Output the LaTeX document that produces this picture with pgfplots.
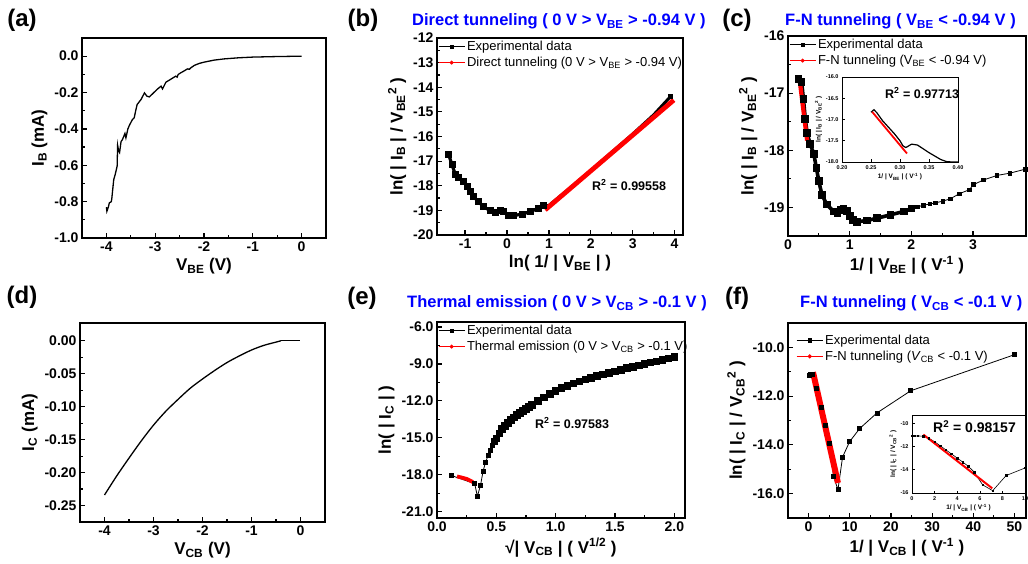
\documentclass[border=0pt]{standalone}
\usepackage{fontspec}
\setmainfont{Liberation Sans}
\usepackage{pgfplots}
\pgfplotsset{compat=1.18}
\newcommand{\fs}[1]{\fontsize{#1}{#1}\selectfont}
\pgfplotsset{
  panel/.style={
    scale only axis, anchor=south west,
    axis line style={line width=1.5pt},
    tick style={black, line width=1.2pt},
    major tick length=5pt, minor tick length=3pt,
    tick align=inside, xtick pos=bottom, ytick pos=left,
    tick label style={font=\bfseries\fs{14}},
    label style={font=\bfseries\fs{17}},
    /pgf/number format/assume math mode=true,
    scaled ticks=false,
    minor x tick num=1, minor y tick num=1,
    legend cell align=left,
    legend style={draw=none, fill=none, at={(0,1)}, anchor=north west, font=\fs{13}, inner sep=1pt, row sep=1pt},
    legend image code/.code={\draw[mark repeat=2,mark phase=2,##1] plot coordinates {(0pt,0pt) (13pt,0pt) (26pt,0pt)};},
  },
  inset/.style={
    scale only axis, anchor=south west,
    axis line style={line width=0.7pt},
    tick style={black, line width=0.5pt},
    major tick length=2.5pt, minor tick length=1.5pt,
    tick align=inside, xtick pos=bottom, ytick pos=left,
    tick label style={font=\bfseries\fs{5.5}},
    label style={font=\bfseries\fs{6.5}},
    /pgf/number format/assume math mode=true,
    scaled ticks=false, axis background/.style={fill=white},
    xlabel style={yshift=3pt}, ylabel style={yshift=-3pt},
  },
  expl/.style={black, line width=0.8pt, mark=square*, mark size=1.6pt},
  fitl/.style={red, line width=0.8pt, mark=*, mark size=1.6pt},
}
\begin{document}
\begin{tikzpicture}
\useasboundingbox (0,0) rectangle (1028pt,563pt);
% ---------- (a)
\begin{axis}[panel, at={(82pt,325pt)}, width=244pt, height=200pt,
  xmin=-4.5, xmax=0.5, ymin=-1.0, ymax=0.1,
  xtick={-4,-3,-2,-1,0}, ytick={-1,-0.8,-0.6,-0.4,-0.2,0},
  yticklabel style={/pgf/number format/.cd, fixed, fixed zerofill, precision=1},
  xlabel={V\textsubscript{BE} (V)}, ylabel={I\textsubscript{B} (mA)}]
\addplot[black, line width=1.3pt] coordinates {
(-4.00,-0.83) (-3.99,-0.853) (-3.96,-0.83) (-3.94,-0.807) (-3.90,-0.80) (-3.89,-0.785)
(-3.85,-0.679) (-3.82,-0.651) (-3.78,-0.605) (-3.77,-0.49) (-3.75,-0.52) (-3.73,-0.53)
(-3.70,-0.47) (-3.67,-0.458) (-3.62,-0.425) (-3.60,-0.449) (-3.56,-0.40) (-3.53,-0.381)
(-3.47,-0.35) (-3.43,-0.339) (-3.40,-0.30) (-3.37,-0.266) (-3.29,-0.238) (-3.22,-0.202)
(-3.17,-0.220) (-3.12,-0.224) (-3.02,-0.198) (-2.95,-0.18) (-2.88,-0.165) (-2.85,-0.180)
(-2.78,-0.143) (-2.70,-0.13) (-2.58,-0.110) (-2.55,-0.115) (-2.53,-0.101) (-2.48,-0.092)
(-2.40,-0.08) (-2.34,-0.070) (-2.30,-0.072) (-2.27,-0.064) (-2.20,-0.051) (-2.10,-0.040)
(-2.00,-0.033) (-1.80,-0.022) (-1.59,-0.015) (-1.30,-0.009) (-1.00,-0.005) (-0.50,-0.002) (0.00,0.000)};
\end{axis}
% ---------- (b)
\begin{axis}[panel, at={(437pt,328pt)}, width=246pt, height=197pt,
  xmin=-1.67, xmax=4.2, ymin=-20, ymax=-12,
  xtick={-1,0,1,2,3,4}, ytick={-20,-19,-18,-17,-16,-15,-14,-13,-12},
  xlabel={ln( 1/ | V\textsubscript{BE} | )}, ylabel={ln( | I\textsubscript{B} | / V\textsubscript{BE}\textsuperscript{2} )}]
\addlegendimage{expl}\addlegendentry{Experimental data}
\addlegendimage{fitl}\addlegendentry{Direct tunneling (0 V > V\textsubscript{BE} > -0.94 V)}
\addplot[black, line width=3.2pt, mark=square*, mark size=1.9pt, forget plot] coordinates {
(-1.39,-16.75) (-1.31,-17.15) (-1.23,-17.56) (-1.15,-17.65) (-1.04,-17.83) (-0.95,-18.03)
(-0.88,-18.24) (-0.80,-18.44) (-0.68,-18.64) (-0.56,-18.85) (-0.40,-19.01) (-0.28,-19.08)
(-0.16,-19.01) (-0.08,-19.05) (0.04,-19.19) (0.16,-19.21) (0.36,-19.15) (0.56,-19.05)
(0.75,-18.91) (0.87,-18.82)};
\addplot[black, line width=3pt, forget plot] coordinates {
(0.87,-18.82) (1.0,-18.8) (1.5,-18.1) (2.0,-17.38) (2.5,-16.64) (3.0,-15.9) (3.5,-15.12) (3.9,-14.38)};
\addplot[black, only marks, mark=square*, mark size=2pt, forget plot] coordinates {(3.9,-14.38)};
\addplot[red, line width=4.8pt, forget plot] coordinates {(0.91,-18.98) (3.98,-14.52)};
\end{axis}
% ---------- (c)
\begin{axis}[panel, at={(788pt,327pt)}, width=238pt, height=200pt,
  xmin=0, xmax=3.86, ymin=-19.5, ymax=-16,
  xtick={0,1,2,3}, ytick={-19,-18,-17,-16},
  xlabel={1/ | V\textsubscript{BE} | ( V\textsuperscript{-1} )}, ylabel={ln( | I\textsubscript{B} | / V\textsubscript{BE}\textsuperscript{2} )}]
\addlegendimage{expl}\addlegendentry{Experimental data}
\addlegendimage{fitl}\addlegendentry{F-N tunneling (V\textsubscript{BE} < -0.94 V)}
\addplot[black, line width=3.6pt, mark=square*, mark size=2pt, forget plot] coordinates {
(0.17,-16.75) (0.22,-16.8) (0.25,-17.1) (0.28,-17.45) (0.31,-17.7) (0.36,-17.89)
(0.42,-18.07) (0.46,-18.31) (0.50,-18.54) (0.55,-18.78) (0.63,-18.95) (0.74,-19.07)
(0.80,-19.10) (0.86,-19.04) (0.90,-19.02) (0.96,-19.06) (1.01,-19.15) (1.05,-19.22) (1.12,-19.25)
(1.28,-19.23) (1.44,-19.19) (1.66,-19.13) (1.88,-19.07) (2.0,-19.02)};
\addplot[black, line width=0.8pt, mark=square*, mark size=1.8pt, forget plot] coordinates {
(2.0,-19.02) (2.1,-18.99) (2.2,-18.96) (2.3,-18.94) (2.39,-18.92) (2.51,-18.89) (2.63,-18.85)
(2.78,-18.76) (2.94,-18.69) (3.01,-18.60) (3.17,-18.52) (3.39,-18.44) (3.6,-18.40) (3.85,-18.33)};
\addplot[red, line width=4.2pt, forget plot] coordinates {(0.19,-16.78) (0.31,-17.83)};
\end{axis}
\begin{axis}[inset, at={(842pt,401pt)}, width=116pt, height=85pt,
  xmin=0.2, xmax=0.4, ymin=-18, ymax=-16,
  xtick={0.2,0.25,0.3,0.35,0.4}, ytick={-18,-17.5,-17,-16.5,-16},
  xticklabel style={/pgf/number format/.cd, fixed, fixed zerofill, precision=2},
  yticklabel style={/pgf/number format/.cd, fixed, fixed zerofill, precision=1},
  xlabel={1/ | V\textsubscript{BE} | ( V\textsuperscript{-1} )}, ylabel={ln( | I\textsubscript{B} | / V\textsubscript{BE}\textsuperscript{2} )}]
\addplot[black, line width=1.2pt] coordinates {
(0.25,-16.83) (0.255,-16.77) (0.26,-16.84) (0.27,-17.03) (0.28,-17.18) (0.29,-17.33) (0.30,-17.5)
(0.305,-17.62) (0.31,-17.66) (0.32,-17.58) (0.33,-17.6) (0.34,-17.69) (0.35,-17.78) (0.36,-17.86)
(0.37,-17.94) (0.38,-17.99) (0.39,-18.0) (0.40,-18.0)};
\addplot[red, line width=1.8pt] coordinates {(0.252,-16.82) (0.312,-17.8)};
\end{axis}
% ---------- (d)
\begin{axis}[panel, at={(80pt,41pt)}, width=245pt, height=199pt,
  xmin=-4.5, xmax=0.5, ymin=-0.275, ymax=0.027,
  xtick={-4,-3,-2,-1,0}, ytick={-0.25,-0.2,-0.15,-0.1,-0.05,0},
  yticklabel style={/pgf/number format/.cd, fixed, fixed zerofill, precision=2},
  xlabel={V\textsubscript{CB} (V)}, ylabel={I\textsubscript{C} (mA)}]
\addplot[black, line width=1.3pt, smooth] coordinates {
(-4,-0.234) (-3.75,-0.205) (-3.5,-0.178) (-3.25,-0.152) (-3.0,-0.128) (-2.75,-0.107)
(-2.5,-0.089) (-2.25,-0.072) (-2.0,-0.058) (-1.75,-0.045) (-1.5,-0.033) (-1.25,-0.023)
(-1.0,-0.014) (-0.75,-0.007) (-0.5,-0.002) (-0.4,0)};
\addplot[black, line width=1.3pt] coordinates {(-0.4,0) (0,0)};
\end{axis}
% ---------- (e)
\begin{axis}[panel, at={(437pt,45pt)}, width=248pt, height=196pt,
  xmin=0, xmax=2.09, ymin=-21.5, ymax=-5.6,
  xtick={0,0.5,1,1.5,2}, ytick={-21,-18,-15,-12,-9,-6},
  xticklabel style={/pgf/number format/.cd, fixed, fixed zerofill, precision=1},
  yticklabel style={/pgf/number format/.cd, fixed, fixed zerofill, precision=1},
  xlabel={√| V\textsubscript{CB} | ( V\textsuperscript{1/2} )}, ylabel={ln( | I\textsubscript{C} | )}]
\addlegendimage{expl}\addlegendentry{Experimental data}
\addlegendimage{fitl}\addlegendentry{Thermal emission (0 V > V\textsubscript{CB} > -0.1 V)}
\addplot[black, line width=0.8pt, mark=square*, mark size=2pt, forget plot] coordinates {
(0.121,-18.05) (0.318,-18.72) (0.340,-19.74) (0.366,-18.88) (0.388,-17.72) (0.408,-17.0)
(0.43,-16.45) (0.45,-16.03) (0.467,-15.62) (0.486,-15.3)};
\addplot[black, line width=3pt, mark=square*, mark size=2.3pt, forget plot] coordinates {
(0.486,-15.3) (0.5,-15.05) (0.525,-14.65) (0.55,-14.3) (0.575,-14.05) (0.6,-13.8) (0.625,-13.55)
(0.65,-13.35) (0.675,-13.15) (0.7,-13.0) (0.725,-12.82) (0.75,-12.65) (0.775,-12.48) (0.8,-12.33)
(0.85,-12.0) (0.9,-11.72) (0.95,-11.45) (1.0,-11.18) (1.05,-10.97) (1.1,-10.78) (1.15,-10.6)
(1.2,-10.43) (1.25,-10.27) (1.3,-10.12) (1.35,-9.98) (1.4,-9.85) (1.45,-9.72) (1.5,-9.6)
(1.55,-9.47) (1.6,-9.35) (1.65,-9.23) (1.7,-9.12) (1.75,-9.01) (1.8,-8.9) (1.85,-8.79)
(1.9,-8.68) (1.95,-8.57) (2.0,-8.45)};
\addplot[red, line width=3.8pt, forget plot] coordinates {(0.169,-18.13) (0.2,-18.2) (0.25,-18.33) (0.303,-18.58)};
\end{axis}
% ---------- (f)
\begin{axis}[panel, at={(788pt,45pt)}, width=238pt, height=195pt,
  xmin=-5, xmax=52.8, ymin=-17, ymax=-9,
  xtick={0,10,20,30,40,50}, ytick={-16,-14,-12,-10},
  yticklabel style={/pgf/number format/.cd, fixed, fixed zerofill, precision=1},
  legend style={at={(0.03,0.955)}},
  xlabel={1/ | V\textsubscript{CB} | ( V\textsuperscript{-1} )}, ylabel={ln( | I\textsubscript{C} | / V\textsubscript{CB}\textsuperscript{2} )}]
\addlegendimage{expl}\addlegendentry{Experimental data}
\addlegendimage{fitl}\addlegendentry{F-N tunneling (\textit{V}\textsubscript{CB} < -0.1 V)}
\addplot[black, line width=0.8pt, mark=square*, mark size=2pt, forget plot] coordinates {
(0.25,-11.15) (0.5,-11.12) (1,-11.12) (2,-11.7) (3,-12.45) (4,-13.2) (5,-13.95) (6.07,-15.3)
(7.13,-15.84) (8.25,-14.5) (9.95,-13.87) (12.4,-13.33) (16.6,-12.69) (24.8,-11.78) (50,-10.3)};
\addplot[red, line width=6pt, forget plot] coordinates {(1.07,-11.02) (7.13,-15.56)};
\end{axis}
\begin{axis}[inset, at={(912pt,70pt)}, width=113pt, height=78pt,
  xmin=0, xmax=10, ymin=-16, ymax=-9.3,
  xtick={0,2,4,6,8,10}, ytick={-16,-14,-12,-10},
  xlabel={1/ | V\textsubscript{CB} | ( V\textsuperscript{-1} )}, ylabel={ln( | I\textsubscript{C} | / V\textsubscript{CB}\textsuperscript{2} )}]
\addplot[black, line width=0.6pt, mark=square*, mark size=0.8pt] coordinates {
(0,-11.1) (0.25,-11.1) (0.5,-11.1) (1.0,-11.12) (1.5,-11.3) (2,-11.6) (2.5,-11.95) (3,-12.3)
(3.5,-12.65) (4,-13.0) (4.5,-13.35) (5,-13.72) (5.5,-14.2) (6.25,-15.3) (7.14,-15.8) (8.33,-14.5) (10,-13.85)};
\addplot[red, line width=2pt] coordinates {(1.0,-10.98) (7.1,-15.6)};
\end{axis}
% ---------- labels, titles, annotations
\begin{scope}[every node/.style={inner sep=0pt}]
\node[font=\bfseries\fs{24}] at (22pt,543pt) {(a)};
\node[font=\bfseries\fs{24}] at (363pt,543pt) {(b)};
\node[font=\bfseries\fs{24}] at (737pt,543pt) {(c)};
\node[font=\bfseries\fs{24}] at (22pt,266pt) {(d)};
\node[font=\bfseries\fs{24}] at (362pt,265pt) {(e)};
\node[font=\bfseries\fs{24}] at (737pt,265pt) {(f)};
\node[anchor=base west, font=\bfseries\fs{16.5}, text=blue] at (412pt,537pt) {Direct tunneling ( 0 V > V\textsubscript{BE} > -0.94 V )};
\node[anchor=base west, font=\bfseries\fs{16.5}, text=blue] at (785pt,537pt) {F-N tunneling ( V\textsubscript{BE} < -0.94 V )};
\node[anchor=base west, font=\bfseries\fs{16.5}, text=blue] at (407pt,255pt) {Thermal emission ( 0 V > V\textsubscript{CB} > -0.1 V )};
\node[anchor=base west, font=\bfseries\fs{16.5}, text=blue] at (800pt,255pt) {F-N tunneling ( V\textsubscript{CB} < -0.1 V )};
\node[anchor=west, font=\bfseries\fs{12.5}] at (592pt,378pt) {R\textsuperscript{2} = 0.99558};
\node[anchor=west, font=\bfseries\fs{12.5}] at (885pt,470pt) {R\textsuperscript{2} = 0.97713};
\node[anchor=west, font=\bfseries\fs{12.5}] at (535pt,140pt) {R\textsuperscript{2} =  0.97583};
\node[anchor=west, font=\bfseries\fs{14}] at (933pt,136pt) {R\textsuperscript{2} = 0.98157};
\end{scope}
\end{tikzpicture}
\end{document}
